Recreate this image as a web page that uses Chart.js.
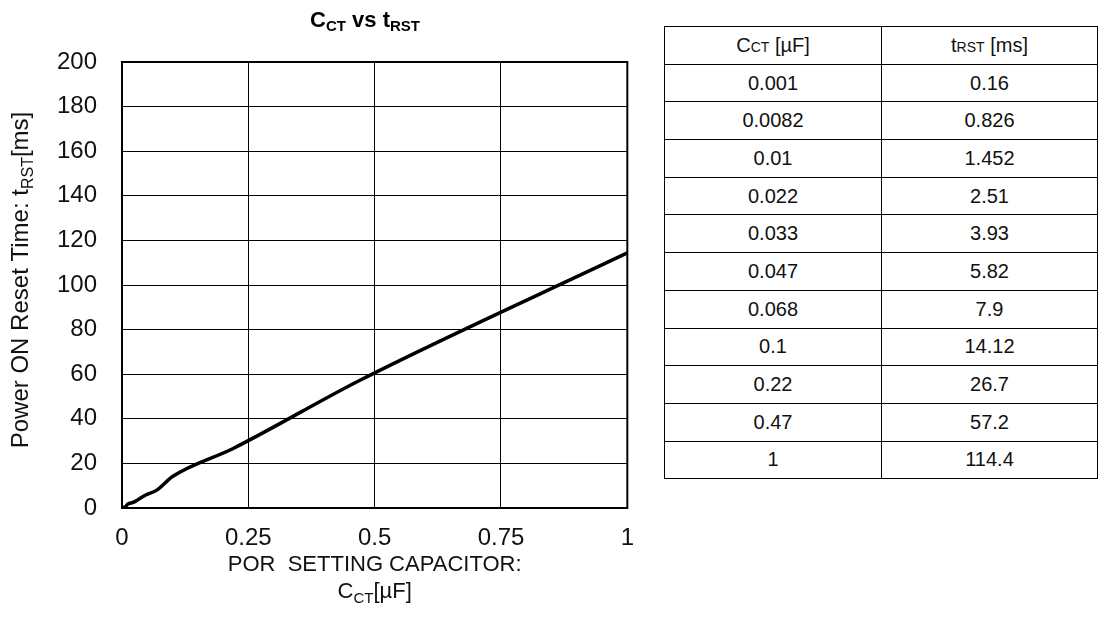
<!DOCTYPE html>
<html lang="en">
<head>
<meta charset="UTF-8">
<title>CCT vs tRST</title>
<script src="https://cdn.jsdelivr.net/npm/chart.js"></script>
<style>
  body { margin: 0; background: #fff; font-family: "Liberation Sans", Arial, sans-serif; }
  #chartBox { position: absolute; left: 0; top: 0; width: 650px; height: 620px; }
  #porTable { position: absolute; left: 664px; top: 26px; width: 434px; border-collapse: collapse; table-layout: fixed; }
  #porTable td { border: 1px solid #000; height: 36.7px; padding: 0; text-align: center; font-size: 20px; color: #111; }
  #porTable td:first-child { width: 216px; }
  #porTable .sm { font-size: 14px; }
</style>
</head>
<body>
<div id="chartBox"><canvas id="cctChart"></canvas></div>
<table id="porTable"><tbody></tbody></table>

<script>
  // capacitor value vs reset time
  const capValues = [0.001, 0.0082, 0.01, 0.022, 0.033, 0.047, 0.068, 0.1, 0.22, 0.47, 1];
  const capLabels = ['0.001', '0.0082', '0.01', '0.022', '0.033', '0.047', '0.068', '0.1', '0.22', '0.47', '1'];
  const resetTimes = [0.16, 0.826, 1.452, 2.51, 3.93, 5.82, 7.9, 14.12, 26.7, 57.2, 114.4];
  const resetLabels = ['0.16', '0.826', '1.452', '2.51', '3.93', '5.82', '7.9', '14.12', '26.7', '57.2', '114.4'];
  const xRange = [0, 1];
  const yRange = [0, 200];
  const xStep = 0.25;
  const yStep = 20;

  const FONT = '"Liberation Sans", Arial, sans-serif';

  // table
  const tbody = document.querySelector('#porTable tbody');
  let rows = '<tr><td>C<span class="sm">CT</span> [µF]</td><td>t<span class="sm">RST</span> [ms]</td></tr>';
  capLabels.forEach((c, i) => {
    rows += `<tr><td>${c}</td><td>${resetLabels[i]}</td></tr>`;
  });
  tbody.innerHTML = rows;

  // text with subscripts: runs of {t, size, bold, dy}
  function drawRuns(ctx, runs, x, y) {
    let total = 0;
    runs.forEach(r => {
      ctx.font = (r.bold ? 'bold ' : '') + r.size + 'px ' + FONT;
      r.w = ctx.measureText(r.t).width;
      total += r.w;
    });
    let cx = x - total / 2;
    ctx.textAlign = 'left';
    ctx.textBaseline = 'alphabetic';
    runs.forEach(r => {
      ctx.font = (r.bold ? 'bold ' : '') + r.size + 'px ' + FONT;
      ctx.fillText(r.t, cx, y + (r.dy || 0));
      cx += r.w;
    });
  }

  const labelsPlugin = {
    id: 'labels',
    afterDraw(chart) {
      const ctx = chart.ctx;
      const a = chart.chartArea;
      ctx.save();
      // frame
      ctx.strokeStyle = '#000';
      ctx.lineWidth = 2;
      ctx.strokeRect(a.left, a.top, a.right - a.left, a.bottom - a.top);

      ctx.fillStyle = '#000';
      drawRuns(ctx, [
        { t: 'C', size: 22, bold: true },
        { t: 'CT', size: 15, bold: true, dy: 4 },
        { t: ' vs t', size: 22, bold: true },
        { t: 'RST', size: 15, bold: true, dy: 4 }
      ], 365, 27);

      ctx.fillStyle = '#111';
      drawRuns(ctx, [{ t: 'POR  SETTING CAPACITOR:', size: 22 }], (a.left + a.right) / 2, 571);
      drawRuns(ctx, [
        { t: 'C', size: 22 },
        { t: 'CT', size: 15, dy: 5 },
        { t: '[µF]', size: 22 }
      ], (a.left + a.right) / 2, 598);

      ctx.translate(28, 280);
      ctx.rotate(-Math.PI / 2);
      drawRuns(ctx, [
        { t: 'Power ON Reset Time: t', size: 24 },
        { t: 'RST', size: 16, dy: 5 },
        { t: '[ms]', size: 24 }
      ], 0, 0);
      ctx.restore();
    }
  };

  new Chart(document.getElementById('cctChart'), {
    type: 'scatter',
    data: {
      datasets: [{
        data: capValues.map((c, i) => ({ x: c, y: resetTimes[i] })),
        showLine: true,
        borderColor: '#000',
        borderWidth: 3.5,
        pointRadius: 0,
        cubicInterpolationMode: 'monotone'
      }]
    },
    options: {
      responsive: true,
      maintainAspectRatio: false,
      animation: false,
      layout: { padding: { top: 62, right: 22, left: 0, bottom: 0 } },
      plugins: { legend: { display: false }, tooltip: { enabled: false } },
      scales: {
        x: {
          type: 'linear',
          min: xRange[0], max: xRange[1],
          afterFit: s => { s.height = 112; },
          ticks: { stepSize: xStep, padding: 16, color: '#111', font: { size: 24, family: FONT }, callback: v => String(v) },
          grid: { color: '#000', lineWidth: 1, drawTicks: false },
          border: { color: '#000', width: 2 }
        },
        y: {
          type: 'linear',
          min: yRange[0], max: yRange[1],
          afterFit: s => { s.width = 122; },
          ticks: { stepSize: yStep, padding: 25, color: '#111', font: { size: 24, family: FONT } },
          grid: { color: '#000', lineWidth: 1, drawTicks: false },
          border: { color: '#000', width: 2 }
        }
      }
    },
    plugins: [labelsPlugin]
  });
</script>
</body>
</html>
